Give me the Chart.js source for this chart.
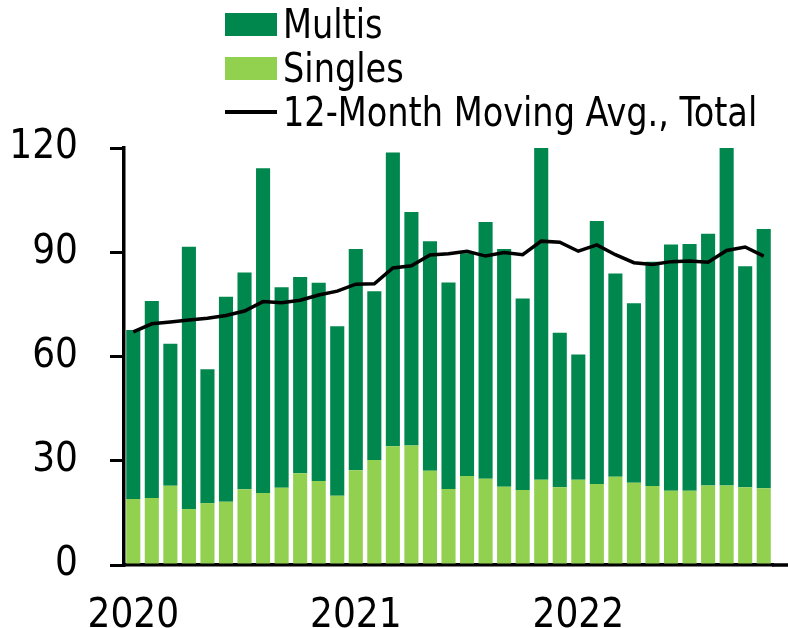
<!DOCTYPE html>
<html>
<head>
<meta charset="utf-8">
<script src="https://cdn.jsdelivr.net/npm/chart.js@4.4.1/dist/chart.umd.min.js"></script>
<style>
  body { margin: 0; background: #fff; }
  #wrap { position: relative; width: 788px; height: 628px; }
  #legend { position: absolute; left: 225px; top: 2px; font-family: 'DejaVu Sans Condensed', 'Liberation Sans', sans-serif; font-size: 41px; color: #000; }
  .row { display: flex; align-items: center; height: 44px; white-space: nowrap; }
  .key { width: 52px; height: 23px; margin-right: 6px; flex: none; }
  .key.line { height: 3.5px; }
  .txt { display: inline-block; transform: scaleX(0.91); transform-origin: left center; }
</style>
</head>
<body>
<div id="wrap">
  <canvas id="starts"></canvas>
  <div id="legend"></div>
</div>
<script>
var months = ['Jan 2020', 'Feb 2020', 'Mar 2020', 'Apr 2020', 'May 2020', 'Jun 2020',
  'Jul 2020', 'Aug 2020', 'Sep 2020', 'Oct 2020', 'Nov 2020', 'Dec 2020',
  'Jan 2021', 'Feb 2021', 'Mar 2021', 'Apr 2021', 'May 2021', 'Jun 2021',
  'Jul 2021', 'Aug 2021', 'Sep 2021', 'Oct 2021', 'Nov 2021', 'Dec 2021',
  'Jan 2022', 'Feb 2022', 'Mar 2022', 'Apr 2022', 'May 2022', 'Jun 2022',
  'Jul 2022', 'Aug 2022', 'Sep 2022', 'Oct 2022', 'Nov 2022'];

var singles = [19.0, 19.3, 22.8, 16.1, 17.8, 18.2, 21.8, 20.7, 22.2, 26.4, 24.2, 19.9,
  27.3, 30.2, 34.2, 34.4, 27.1, 21.9, 25.6, 24.8, 22.5, 21.6, 24.5, 22.4,
  24.5, 23.3, 25.4, 23.7, 22.7, 21.4, 21.4, 22.9, 22.9, 22.4, 22.1];

var multis = [48.6, 56.7, 40.9, 75.5, 38.5, 59.0, 62.4, 93.5, 57.7, 56.5, 57.0, 48.8,
  63.6, 48.6, 84.5, 67.2, 66.1, 59.4, 64.1, 73.9, 68.4, 55.1, 103.5, 44.4,
  36.1, 75.7, 58.5, 51.6, 64.6, 70.8, 71.0, 72.4, 108.1, 63.6, 74.6];

var movingAvg = [67.1, 69.4, 69.9, 70.5, 71.0, 71.8, 73.1, 75.8, 75.5, 76.2, 77.7, 78.8,
  80.8, 80.9, 85.5, 86.1, 89.2, 89.6, 90.3, 88.9, 89.9, 89.3, 93.2, 92.9,
  90.3, 92.1, 89.3, 87.0, 86.5, 87.3, 87.5, 87.1, 90.5, 91.5, 88.9];

var yTicks = [0, 30, 60, 90, 120];

var font = "'DejaVu Sans Condensed', 'Liberation Sans', sans-serif";

// the x axis line runs on past the last bar to the edge of the picture
var axisRunOut = {
  id: 'axisRunOut',
  afterDraw: function (chart) {
    var ctx = chart.ctx;
    var y = chart.scales.y.getPixelForValue(0);
    ctx.save();
    ctx.strokeStyle = '#000';
    ctx.lineWidth = 3.5;
    ctx.beginPath();
    ctx.moveTo(chart.chartArea.right - 1, y);
    ctx.lineTo(chart.width, y);
    ctx.stroke();
    ctx.restore();
  }
};

var ctx = document.getElementById('starts').getContext('2d');
var chart = new Chart(ctx, {
  data: {
    labels: months,
    datasets: [{
      type: 'line',
      label: '12-Month Moving Avg., Total',
      data: movingAvg,
      borderColor: '#000',
      borderWidth: 3.5,
      pointRadius: 0,
      tension: 0,
      stack: 'avg',
      order: 0
    }, {
      type: 'bar',
      label: 'Singles',
      data: singles,
      backgroundColor: '#92D050',
      stack: 'units',
      barPercentage: 0.76,
      categoryPercentage: 1,
      clip: 0,
      order: 1
    }, {
      type: 'bar',
      label: 'Multis',
      data: multis,
      backgroundColor: '#00874E',
      stack: 'units',
      barPercentage: 0.76,
      categoryPercentage: 1,
      clip: 0,
      order: 1
    }]
  },
  options: {
    responsive: true,
    maintainAspectRatio: false,
    animation: false,
    layout: { padding: { top: 148, right: 15, left: 0, bottom: 0 } },
    plugins: {
      legend: { display: false },
      tooltip: { enabled: false }
    },
    scales: {
      x: {
        stacked: true,
        grid: { display: false },
        border: { display: true, color: '#000', width: 3.5 },
        ticks: {
          autoSkip: false,
          maxRotation: 0,
          minRotation: 0,
          padding: 20,
          color: '#000',
          font: { family: font, size: 40 },
          callback: function (v, i) {
            return i % 12 === 0 ? months[i].slice(4) : '';
          }
        },
        afterFit: function (s) { s.height = 63; }
      },
      y: {
        stacked: true,
        min: 0,
        max: 120,
        grid: { drawOnChartArea: false, drawTicks: true, tickLength: 14, color: '#000', lineWidth: 3 },
        border: { display: true, color: '#000', width: 3.5 },
        afterBuildTicks: function (s) {
          s.ticks = yTicks.map(function (v) { return { value: v }; });
        },
        ticks: {
          padding: 32,
          color: '#000',
          font: { family: font, size: 40 }
        },
        afterFit: function (s) { s.width = 124; }
      }
    }
  },
  plugins: [axisRunOut]
});

// legend in the order of the reference: Multis, Singles, moving average
var legendOrder = [2, 1, 0];
var legend = document.getElementById('legend');
legendOrder.forEach(function (i) {
  var ds = chart.data.datasets[i];
  var row = document.createElement('div');
  row.className = 'row';
  var key = document.createElement('span');
  key.className = ds.type === 'line' ? 'key line' : 'key';
  key.style.background = ds.type === 'line' ? ds.borderColor : ds.backgroundColor;
  var txt = document.createElement('span');
  txt.className = 'txt';
  txt.textContent = ds.label;
  row.appendChild(key);
  row.appendChild(txt);
  legend.appendChild(row);
});
</script>
</body>
</html>
